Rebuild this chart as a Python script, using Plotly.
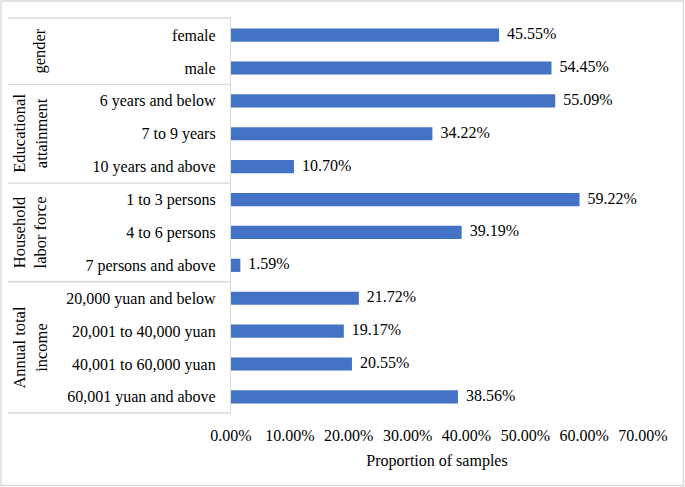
import plotly.graph_objects as go

categories = ["female", "male", "6 years and below", "7 to 9 years", "10 years and above",
              "1 to 3 persons", "4 to 6 persons", "7 persons and above",
              "20,000 yuan and below", "20,001 to 40,000 yuan", "40,001 to 60,000 yuan",
              "60,001 yuan and above"]
values = [0.4555, 0.5445, 0.5509, 0.3422, 0.1070, 0.5922, 0.3919, 0.0159,
          0.2172, 0.1917, 0.2055, 0.3856]
groups = ["gender", "Educational<br>attainment", "Household<br>labor force", "Annual total<br>income"]
group_sizes = [2, 3, 3, 4]
tick_vals = [0, 0.1, 0.2, 0.3, 0.4, 0.5, 0.6, 0.7]
x_title = "Proportion of samples"

W, H = 685, 487
L, R = 231, 643
T, B = 18, 413
FONT = "Liberation Serif, Times New Roman, serif"
FS = 16

def px_to_paper(px):
    return (px - L) / (R - L)

fig = go.Figure()
fig.add_trace(go.Bar(
    y=categories, x=values, orientation="h",
    marker=dict(color="#4472C4", line=dict(width=0)),
    width=0.4,
    hoverinfo="skip",
))
fig.add_trace(go.Scatter(
    y=categories, x=values, mode="text",
    text=["\u00a0\u00a0" + f"{v*100:.2f}%" for v in values],
    textposition="middle right",
    textfont=dict(family=FONT, size=FS, color="#000000"),
    cliponaxis=False, hoverinfo="skip",
))

shapes = []
line_style = dict(color="#d9d9d9", width=1.3)
cum = 0
for s in group_sizes[:-1]:
    cum += s
    shapes.append(dict(type="line", xref="paper", yref="y", x0=px_to_paper(8), x1=0,
                       y0=cum - 0.5, y1=cum - 0.5, line=line_style))
shapes.append(dict(type="line", xref="paper", yref="paper", x0=px_to_paper(8), x1=0, y0=1, y1=1, line=line_style))
shapes.append(dict(type="line", xref="paper", yref="paper", x0=px_to_paper(8), x1=0, y0=0, y1=0, line=line_style))
# outer border
shapes.append(dict(type="rect", xref="paper", yref="paper",
                   x0=px_to_paper(1), x1=px_to_paper(W - 1.5),
                   y0=-(H - 1.5 - B) / (B - T),
                   y1=1 + (T - 1) / (B - T),
                   line=dict(color="#d9d9d9", width=1.3)))

annotations = []
start = 0
for g, s in zip(groups, group_sizes):
    center = start + (s - 1) / 2
    xpx = 40 if "<br>" not in g else 30
    annotations.append(dict(text=g, x=px_to_paper(xpx), y=center, xref="paper", yref="y",
                            textangle=-90, showarrow=False, xanchor="center", yanchor="middle",
                            font=dict(family=FONT, size=16.5, color="#000000")))
    start += s

fig.update_layout(
    width=W, height=H,
    margin=dict(l=L, r=W - R, t=T, b=H - B, pad=0, autoexpand=False),
    paper_bgcolor="white", plot_bgcolor="white",
    showlegend=False,
    shapes=shapes, annotations=annotations,
    font=dict(family=FONT, size=FS, color="#000000"),
)
fig.update_xaxes(
    range=[0, 0.7], tickvals=tick_vals, tickformat=".2%",
    showgrid=False, zeroline=False, showline=False, ticks="",
    ticklabelstandoff=11, automargin=False,
    tickfont=dict(family=FONT, size=FS, color="#000000"),
    title=dict(text=x_title, standoff=11, font=dict(family=FONT, size=FS, color="#000000")),
)
fig.update_yaxes(
    type="category", categoryorder="array", categoryarray=categories,
    range=[11.49, -0.52],
    showgrid=False, zeroline=False, showline=True, linecolor="#d9d9d9", linewidth=1.3,
    ticks="", ticklabelstandoff=11, automargin=False,
    tickfont=dict(family=FONT, size=FS, color="#000000"),
)

fig.write_html("out.html", config={"displayModeBar": False},
               post_script="document.body.style.margin='0';document.body.style.overflow='hidden';")
